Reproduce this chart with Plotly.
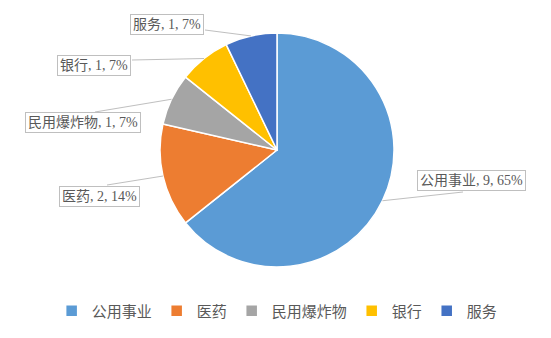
import math
import plotly.graph_objects as go

# Industry breakdown
labels = ["公用事业", "医药", "民用爆炸物", "银行", "服务"]
values = [9, 2, 1, 1, 1]
pct_labels = ["65%", "14%", "7%", "7%", "7%"]
colors = ["#5B9BD5", "#ED7D31", "#A5A5A5", "#FFC000", "#4472C4"]

# Callout boxes (pixel centres) and where their leader lines leave the box
box_centers = [(471, 180.5), (99.5, 196), (82.5, 122.5), (93.5, 65), (166.5, 24.5)]
leader_from = [(463, 192), (107, 185), (95, 112), (132, 60), (205, 30)]

W, H = 551, 338
cx, cy, r = 277, 150, 117

fig = go.Figure(go.Pie(
    labels=labels,
    values=values,
    marker=dict(colors=colors, line=dict(color="white", width=1.5)),
    sort=False,
    direction="clockwise",
    rotation=0,
    textinfo="none",
    hoverinfo="label+value+percent",
    domain=dict(x=[(cx - r) / W, (cx + r) / W], y=[1 - (cy + r) / H, 1 - (cy - r) / H]),
))

label_font = dict(family="Liberation Serif, Noto Sans CJK SC", size=14, color="#595959")

total = sum(values)
cum = 0
for lab, v, pct, (bx, by), (lx, ly) in zip(labels, values, pct_labels, box_centers, leader_from):
    mid = (cum + v / 2) / total * 2 * math.pi
    cum += v
    ex = cx + r * math.sin(mid)
    ey = cy - r * math.cos(mid)
    fig.add_shape(type="line", xref="paper", yref="paper",
                  x0=lx / W, y0=1 - ly / H, x1=ex / W, y1=1 - ey / H,
                  line=dict(color="#bfbfbf", width=1))
    fig.add_annotation(xref="paper", yref="paper", x=bx / W, y=1 - by / H,
                       text=f"{lab}, {v}, {pct}", showarrow=False,
                       font=label_font, bgcolor="white",
                       bordercolor="#bfbfbf", borderwidth=1, borderpad=2,
                       xanchor="center", yanchor="middle")

fig.update_layout(
    width=W, height=H,
    margin=dict(l=0, r=0, t=0, b=0),
    paper_bgcolor="white",
    showlegend=True,
    legend=dict(orientation="h", x=0.503, xanchor="center", y=1 - 311 / H, yanchor="middle",
                font=dict(family="Noto Sans CJK SC", size=15, color="#595959"),
                itemwidth=30, traceorder="normal"),
)

fig.write_html("out.html")
